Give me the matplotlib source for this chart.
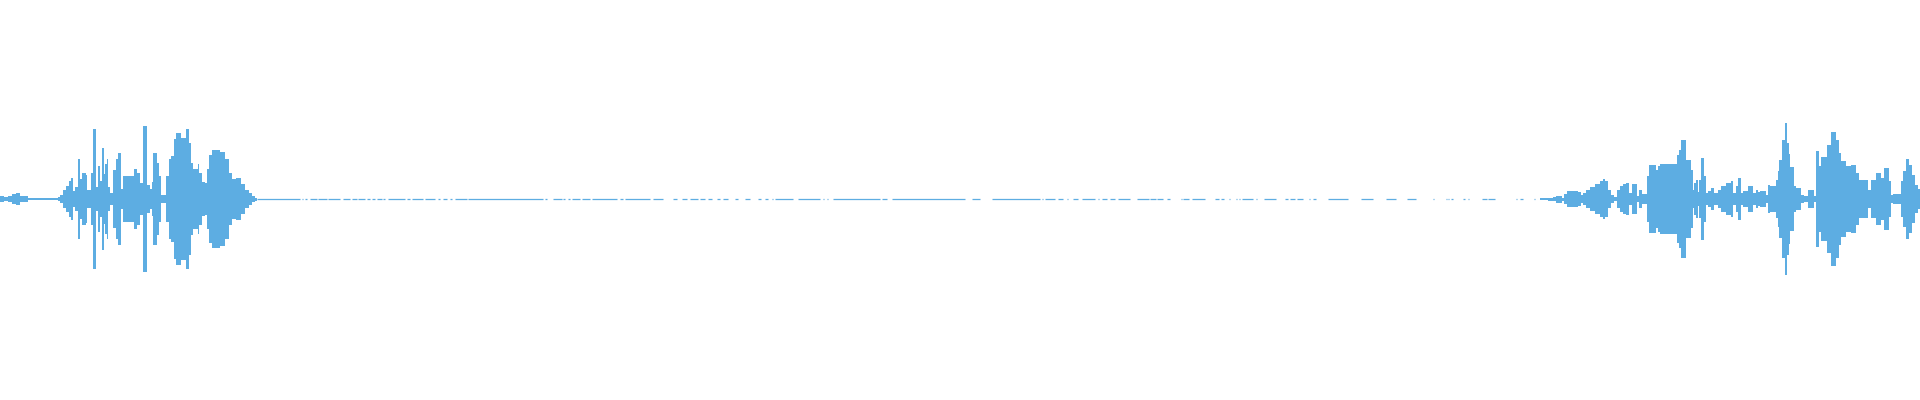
import numpy as np
import matplotlib
matplotlib.use("Agg")
import matplotlib.pyplot as plt

WAVE_COLOR = "#5dade2"

# peak envelope of the two speech bursts (column index, amplitude on a +/-200 scale)
left_x = [0, 4, 8, 12, 16, 20, 24, 28, 58, 60, 63, 66, 69, 71, 73, 75, 78, 80, 82, 86,
          87, 91, 93, 96, 98, 100, 102, 104, 105, 107, 108, 110, 113, 116, 118, 121, 123,
          130, 134, 137, 140, 143, 147, 150, 152, 153, 157, 159, 161, 166, 169, 171, 174,
          176, 181, 186, 189, 191, 193, 198, 199, 202, 205, 207, 209, 212, 220, 225, 229,
          232, 236, 241, 245, 249, 252, 255, 257]
left_amp = [3, 2, 3, 5, 6, 3, 3, 0.8, 2, 4, 9, 13, 18, 21, 8, 12, 40, 20, 26, 24,
            9, 26, 70, 12, 33, 18, 51, 25, 35, 40, 12, 6, 29, 40, 46, 10, 23,
            23, 30, 26, 16, 73, 14, 10, 17, 46, 36, 23, 4, 23, 40, 43, 60,
            66, 61, 70, 56, 36, 30, 35, 26, 17, 16, 30, 44, 49, 47, 40, 26,
            20, 21, 15, 9, 6, 3, 1.5, 0.8]

right_x = [1540, 1548, 1553, 1556, 1562, 1564, 1567, 1578, 1581, 1583, 1586, 1590, 1595,
           1600, 1603, 1605, 1608, 1611, 1614, 1617, 1620, 1623, 1626, 1629, 1632, 1637,
           1639, 1642, 1647, 1649, 1656, 1658, 1660, 1677, 1679, 1681, 1686, 1691, 1693,
           1694, 1696, 1698, 1699, 1701, 1704, 1706, 1708, 1711, 1714, 1718, 1721, 1726,
           1731, 1733, 1736, 1738, 1741, 1743, 1748, 1753, 1756, 1758, 1760, 1766, 1768,
           1770, 1776, 1778, 1779, 1782, 1785, 1787, 1789, 1790, 1794, 1796, 1801, 1804,
           1808, 1814, 1816, 1819, 1821, 1827, 1831, 1836, 1839, 1841, 1846, 1851, 1856,
           1859, 1868, 1871, 1876, 1881, 1884, 1889, 1891, 1893, 1901, 1903, 1906, 1909,
           1912, 1915, 1918, 1920]
right_amp = [1, 1.5, 2, 3.5, 1.5, 5, 8, 7, 4, 6, 9, 12, 15,
             18, 20, 18, 9, 4, 2, 9, 13, 15, 16, 6, 15, 3,
             9, 5, 23, 34, 29, 33, 35, 44, 49, 59, 39, 29, 9,
             16, 19, 7, 19, 41, 23, 6, 8, 11, 6, 9, 13, 16,
             18, 6, 13, 21, 6, 8, 13, 6, 9, 7, 8, 4, 14,
             13, 19, 28, 39, 59, 76, 56, 45, 32, 13, 11, 4, 3,
             9, 3, 48, 33, 42, 54, 67, 59, 46, 38, 33, 34, 26,
             19, 9, 19, 26, 21, 31, 18, 4, 5, 18, 28, 40, 34,
             24, 14, 10, 10]

# near-silent stretch between the bursts: pieces of the zero line that are drawn
quiet_start = [257, 302, 305, 310, 318, 328, 343, 352, 358, 367, 372, 377, 383, 388, 407,
               412, 425, 438, 443, 450, 455, 468, 545, 553, 563, 568, 572, 582, 592, 620,
               625, 653, 673, 682, 690, 700, 708, 717, 723, 735, 745, 758, 765, 772, 775,
               798, 823, 827, 833, 882, 892, 972, 992, 1042, 1045, 1058, 1067, 1073, 1082,
               1098, 1102, 1110, 1118, 1137, 1150, 1157, 1167, 1181, 1183, 1192, 1215, 1221,
               1229, 1236, 1239, 1242, 1256, 1264, 1285, 1290, 1297, 1309, 1313, 1328, 1361,
               1386, 1407, 1433, 1446, 1448, 1451, 1463, 1468, 1482, 1488, 1516, 1520, 1534]
quiet_end = [300, 303, 307, 317, 327, 340, 350, 357, 365, 370, 375, 382, 385, 405, 410,
             423, 435, 440, 447, 452, 467, 543, 547, 562, 565, 570, 580, 590, 617, 623,
             650, 663, 677, 687, 698, 705, 712, 720, 728, 738, 750, 761, 768, 773, 793,
             820, 824, 828, 880, 887, 965, 980, 1040, 1043, 1055, 1063, 1068, 1078, 1095,
             1099, 1107, 1115, 1130, 1149, 1156, 1163, 1170, 1182, 1189, 1205, 1219, 1224,
             1230, 1237, 1240, 1253, 1257, 1276, 1288, 1295, 1303, 1310, 1316, 1348, 1373,
             1396, 1416, 1434, 1447, 1449, 1453, 1465, 1469, 1487, 1495, 1517, 1523, 1535]

fig = plt.figure(figsize=(19.2, 4), dpi=100)
ax = fig.add_axes([0, 0, 1, 1])

# each envelope value holds until the next column, like the per-column peaks
for xs, amps in [(left_x, left_amp), (right_x, right_amp)]:
    xs = np.array(xs, dtype=float)
    amps = np.array(amps, dtype=float)
    ax.fill_between(xs, -amps, amps, step="post", color=WAVE_COLOR, lw=0)

ax.hlines(np.zeros(len(quiet_start)), quiet_start, quiet_end, color=WAVE_COLOR, lw=0.9)

ax.set_xlim(0, 1920)
ax.set_ylim(-200.7, 199.3)
ax.axis("off")

fig.savefig("out.png", dpi=100, facecolor="white")
